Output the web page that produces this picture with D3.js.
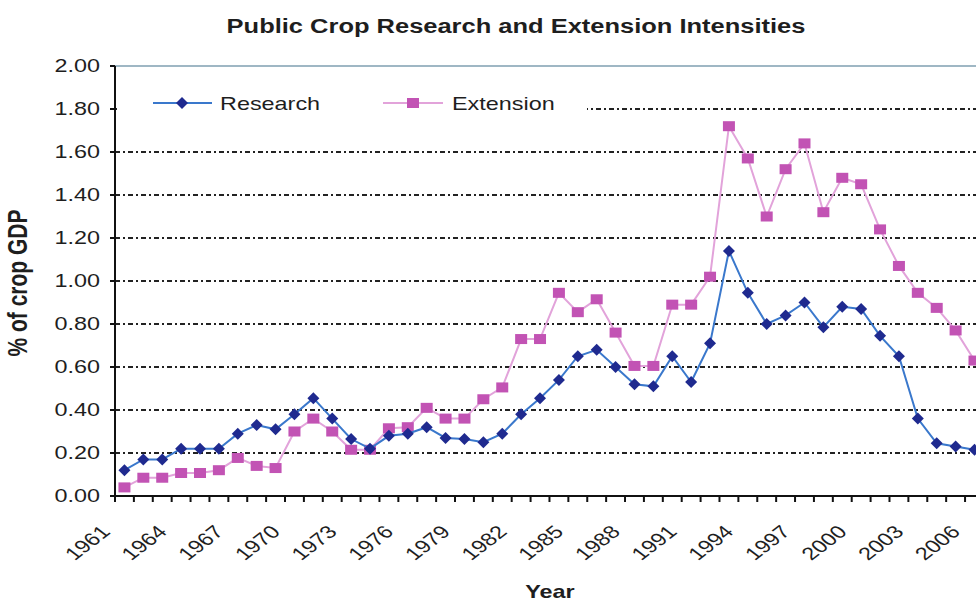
<!DOCTYPE html>
<html>
<head>
<meta charset="utf-8">
<script src="https://cdn.jsdelivr.net/npm/d3@7"></script>
<style>
  body { margin: 0; background: #fff; }
  text { font-family: Arial, "Liberation Sans", sans-serif; fill: #1e1e1e; }
</style>
</head>
<body>
<svg id="chart" width="976" height="605"></svg>
<script>
// ---- data ----
var years = [1961,1962,1963,1964,1965,1966,1967,1968,1969,1970,
             1971,1972,1973,1974,1975,1976,1977,1978,1979,1980,
             1981,1982,1983,1984,1985,1986,1987,1988,1989,1990,
             1991,1992,1993,1994,1995,1996,1997,1998,1999,2000,
             2001,2002,2003,2004,2005,2006];
var yearLabels = [1961,1964,1967,1970,1973,1976,1979,1982,1985,1988,1991,1994,1997,2000,2003,2006];
var research = [0.12,0.17,0.17,0.22,0.22,0.22,0.29,0.33,0.31,0.38,
                0.455,0.36,0.265,0.22,0.28,0.29,0.32,0.27,0.265,0.25,
                0.29,0.38,0.455,0.54,0.65,0.68,0.60,0.52,0.51,0.65,
                0.53,0.71,1.14,0.945,0.80,0.84,0.90,0.785,0.88,0.87,
                0.745,0.65,0.36,0.245,0.23,0.215];
var extension = [0.04,0.085,0.085,0.107,0.107,0.12,0.177,0.14,0.13,0.30,
                 0.36,0.30,0.215,0.215,0.315,0.32,0.41,0.36,0.36,0.45,
                 0.505,0.73,0.73,0.945,0.855,0.915,0.76,0.605,0.605,0.89,
                 0.89,1.02,1.72,1.57,1.30,1.52,1.64,1.32,1.48,1.45,
                 1.24,1.07,0.945,0.875,0.77,0.63];
var yTicks = [0, 0.2, 0.4, 0.6, 0.8, 1.0, 1.2, 1.4, 1.6, 1.8, 2.0];
var gridTicks = [0.2, 0.4, 0.6, 0.8, 1.0, 1.2, 1.4, 1.6, 1.8];

var K = 1.3; // the picture is stretched sideways, text too

var svg = d3.select("#chart");
var plotLeft = 115, plotTop = 66, plotBottom = 496, step = 18.89;

var x = d3.scaleBand().domain(years).range([plotLeft, plotLeft + years.length * step]).padding(0);
var y = d3.scaleLinear().domain([0, 2]).range([plotBottom, plotTop]);
var cx = function(yr) { return x(yr) + x.bandwidth() / 2; };

function txt(px, py, str, size, weight, anchor, rot) {
  return svg.append("text")
    .attr("transform", "translate(" + px + "," + py + ") scale(" + K + ",1)" + (rot ? " rotate(" + rot + ")" : ""))
    .attr("font-size", size)
    .attr("font-weight", weight || "normal")
    .attr("text-anchor", anchor || "start")
    .text(str);
}

// title
txt(516, 33, "Public Crop Research and Extension Intensities", 19.6, "bold", "middle");

// plot top border
svg.append("line").attr("x1", plotLeft).attr("x2", 976).attr("y1", y(2)).attr("y2", y(2))
  .attr("stroke", "#9fb7c4").attr("stroke-width", 2);

// grid
svg.selectAll(".grid").data(gridTicks).enter().append("line")
  .attr("class", "grid")
  .attr("x1", plotLeft).attr("x2", 976)
  .attr("y1", function(d) { return y(d); }).attr("y2", function(d) { return y(d); })
  .attr("stroke", "#222").attr("stroke-width", 2)
  .attr("stroke-dasharray", "5,3,2,3");

// legend (covers the top grid line on the left)
svg.append("rect").attr("x", plotLeft + 2).attr("y", 86).attr("width", 470).attr("height", 34).attr("fill", "#fff");
var legY = 103;
svg.append("line").attr("x1", 153).attr("x2", 212).attr("y1", legY).attr("y2", legY)
  .attr("stroke", "#3a78cc").attr("stroke-width", 2);
svg.append("path").attr("d", "M182," + (legY - 6) + "L188," + legY + "L182," + (legY + 6) + "L176," + legY + "Z")
  .attr("fill", "#1f2a8f");
txt(220, legY + 7, "Research", 18);
svg.append("line").attr("x1", 383).attr("x2", 443).attr("y1", legY).attr("y2", legY)
  .attr("stroke", "#e2a3da").attr("stroke-width", 2);
svg.append("rect").attr("x", 407).attr("y", legY - 5).attr("width", 12).attr("height", 10).attr("fill", "#c253b4");
txt(452, legY + 7, "Extension", 18);

// axes
svg.append("line").attr("x1", plotLeft).attr("x2", plotLeft).attr("y1", plotTop).attr("y2", plotBottom)
  .attr("stroke", "#111").attr("stroke-width", 2);
svg.append("line").attr("x1", plotLeft - 5).attr("x2", 976).attr("y1", plotBottom).attr("y2", plotBottom)
  .attr("stroke", "#111").attr("stroke-width", 2);

svg.selectAll(".ytick").data(yTicks).enter().append("line")
  .attr("x1", plotLeft - 5).attr("x2", plotLeft)
  .attr("y1", function(d) { return y(d); }).attr("y2", function(d) { return y(d); })
  .attr("stroke", "#111").attr("stroke-width", 2);
yTicks.forEach(function(d) {
  txt(100, y(d) + 6, d3.format(".2f")(d), 18, "normal", "end");
});

svg.selectAll(".xtick").data(years).enter().append("line")
  .attr("x1", function(d) { return x(d); }).attr("x2", function(d) { return x(d); })
  .attr("y1", plotBottom).attr("y2", plotBottom + 6)
  .attr("stroke", "#111").attr("stroke-width", 2);
yearLabels.forEach(function(d) {
  txt(cx(d) - 13, 533, d, 18, "normal", "end", -45);
});

// axis titles
txt(27, 283, "% of crop GDP", 21, "bold", "middle", -90);
txt(550, 598, "Year", 18, "bold", "middle");

// series
var line = d3.line().x(function(d, i) { return cx(years[i]); }).y(function(d) { return y(d); });

svg.append("path").datum(extension).attr("d", line)
  .attr("fill", "none").attr("stroke", "#e2a3da").attr("stroke-width", 2);
svg.selectAll(".ext").data(extension).enter().append("rect")
  .attr("x", function(d, i) { return cx(years[i]) - 6; })
  .attr("y", function(d) { return y(d) - 5; })
  .attr("width", 12).attr("height", 10)
  .attr("fill", "#c253b4");

svg.append("path").datum(research).attr("d", line)
  .attr("fill", "none").attr("stroke", "#3a78cc").attr("stroke-width", 2);
svg.selectAll(".res").data(research).enter().append("path")
  .attr("d", function(d, i) {
    var px = cx(years[i]), py = y(d);
    return "M" + px + "," + (py - 6) + "L" + (px + 6) + "," + py + "L" + px + "," + (py + 6) + "L" + (px - 6) + "," + py + "Z";
  })
  .attr("fill", "#1f2a8f");
</script>
</body>
</html>
